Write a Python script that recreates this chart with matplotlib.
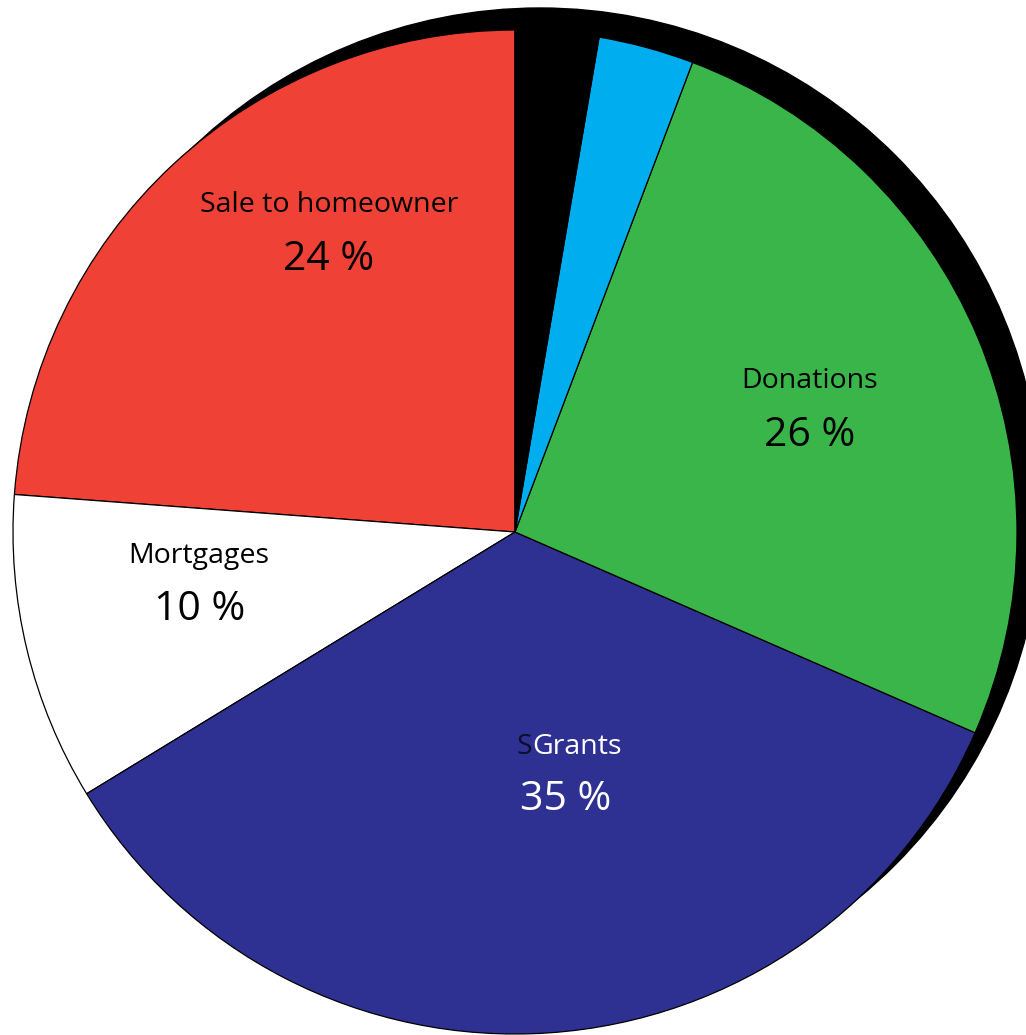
import matplotlib.pyplot as plt
from matplotlib.patches import Circle

# -------------------------------
# Pie chart: funding sources
# -------------------------------
names = ['Sale to homeowner', 'Mortgages', 'SGrants', 'Donations', '', '']
shares = [24, 10, 35, 26, 3.1, 2.7]
pct_labels = ['24 %', '10 %', '35 %', '26 %']
colors = ['#EF4136', '#FFFFFF', '#2E3192', '#39B54A', '#00AEEF', '#000000']

W, H = 1026, 1035
fig = plt.figure(figsize=(W / 100, H / 100), dpi=100)
ax = fig.add_axes([0, 0, 1, 1])

cx, cy, r = 515, H - 532, 502

# black drop shadow behind the pie
ax.add_patch(Circle((cx + 25, cy + 22), r, color='black', zorder=1))

ax.pie(shares, colors=colors, startangle=90, counterclock=True,
       center=(cx, cy), radius=r, frame=True,
       wedgeprops=dict(edgecolor='black', linewidth=0.9, zorder=2))
ax.set_xlim(0, W)
ax.set_ylim(0, H)
ax.set_aspect('equal')
ax.axis('off')

font = 'Open Sans'
# label positions (pixel coords from top-left)
name_pos = [(329, 212), (199, 563), None, (810, 388)]
pct_pos = [(329, 270), (200, 620), (566, 810), (810, 446)]
txt_col = ['black', 'black', 'white', 'black']

for i in range(4):
    px, py = pct_pos[i]
    ax.text(px, H - py, pct_labels[i], ha='center', va='baseline',
            fontsize=29.5, family=font, color=txt_col[i], zorder=5)
    if name_pos[i] is not None:
        nx, ny = name_pos[i]
        ax.text(nx, H - ny, names[i], ha='center', va='baseline',
                fontsize=20.5, family=font, color=txt_col[i], zorder=5)

# "SGrants": dark S, white rest
ax.text(532, H - 754, names[2][0], ha='right', va='baseline',
        fontsize=20.5, family=font, color='#0d0d2b', zorder=5)
ax.text(532, H - 754, names[2][1:], ha='left', va='baseline',
        fontsize=20.5, family=font, color='white', zorder=5)

plt.savefig('out.png', dpi=100)
